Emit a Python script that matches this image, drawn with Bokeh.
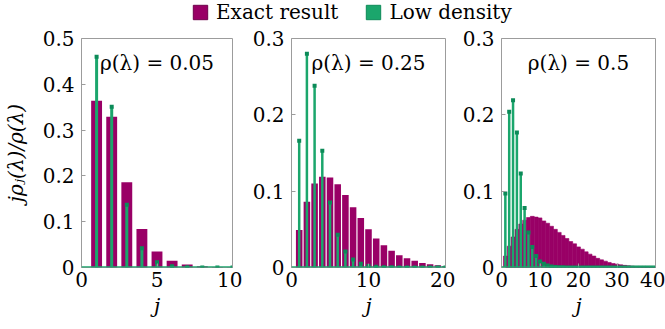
from bokeh.plotting import figure
from bokeh.models import Range1d, FixedTicker, Span, Legend, LegendItem, ColumnDataSource
from bokeh.core.properties import value
from bokeh.layouts import column, row
from bokeh.embed import file_html
from bokeh.resources import INLINE

FONT = "DejaVu Serif"
FS = "20px"
MAGENTA = "#990066"
MAGENTA_DARK = "#6e004a"
GREEN = "#1ba66c"
GREEN_DARK = "#0c8a58"
FRAME = "#9c9c9c"

# ---- data ----
series_names = ["Exact result", "Low density"]

j1 = [1, 2, 3, 4, 5, 6, 7, 8, 9, 10]
exact1 = [0.364, 0.329, 0.186, 0.084, 0.035, 0.0146, 0.0066, 0.003, 0.0013, 0.0005]
low1 = [0.460, 0.351, 0.137, 0.042, 0.0116, 0.003, 0.0008, 0.0002, 0.0, 0.0]

j2 = list(range(1, 21))
exact2 = [0.049, 0.086, 0.110, 0.119, 0.118, 0.109, 0.095, 0.079, 0.065, 0.050,
          0.038, 0.029, 0.022, 0.016, 0.012, 0.0087, 0.006, 0.0044, 0.003, 0.002]
low2 = [0.166, 0.280, 0.238, 0.153, 0.085, 0.043, 0.021, 0.0105, 0.005, 0.002,
        0.001, 0.0004, 0.0002, 0.0, 0.0, 0.0, 0.0, 0.0, 0.0, 0.0]

j3 = list(range(1, 41))
exact3 = [0.015, 0.028, 0.040, 0.050, 0.057, 0.062, 0.0655, 0.067, 0.066, 0.065,
          0.061, 0.058, 0.054, 0.050, 0.046, 0.042, 0.038, 0.034, 0.031, 0.027,
          0.024, 0.0205, 0.0175, 0.015, 0.012, 0.010, 0.0083, 0.0066, 0.0052, 0.0044,
          0.0035, 0.0028, 0.0022, 0.0017, 0.0013, 0.001, 0.0008, 0.0006, 0.0004, 0.0003]
low3 = [0.097, 0.204, 0.219, 0.177, 0.123, 0.078, 0.046, 0.027, 0.015, 0.008,
        0.0048, 0.0026, 0.0014, 0.0007, 0.0004, 0.0002, 0.0001, 0.0, 0.0, 0.0,
        0.0, 0.0, 0.0, 0.0, 0.0, 0.0, 0.0, 0.0, 0.0, 0.0,
        0.0, 0.0, 0.0, 0.0, 0.0, 0.0, 0.0, 0.0, 0.0, 0.0]

x_ticks1 = [0, 5, 10]
x_ticks2 = [0, 10, 20]
x_ticks3 = [0, 10, 20, 30, 40]
y_ticks1 = [0, 0.1, 0.2, 0.3, 0.4, 0.5]
y_tick_labels1 = ["0", "0.1", "0.2", "0.3", "0.4", "0.5"]
y_ticks2 = [0, 0.1, 0.2, 0.3]
y_tick_labels2 = ["0", "0.1", "0.2", "0.3"]

rho_labels = ["ρ(λ) = 0.05", "ρ(λ) = 0.25", "ρ(λ) = 0.5"]
x_label = "j"
y_label = "jρⱼ(λ)/ρ(λ)"

H = 301
FRAME_H = 229


def panel(width, left, right, xmax, ymax, xt, yt, ytl, j, ex, lo, bar_w, bar_line, stem_w, rho_text, ylabel=None):
    p = figure(width=width, height=H, x_range=Range1d(0, xmax), y_range=Range1d(0, ymax),
               toolbar_location=None, output_backend="svg",
               min_border_left=left, min_border_right=right, min_border_top=10, min_border_bottom=62)
    p.xgrid.visible = False
    p.ygrid.visible = False
    p.outline_line_color = FRAME
    p.outline_line_width = 1
    p.background_fill_color = "white"

    p.vbar(x=j, top=ex, width=bar_w, fill_color=MAGENTA, line_color=bar_line, line_width=0.6)
    p.segment(x0=j, y0=[0] * len(j), x1=j, y1=lo, line_color=GREEN, line_width=stem_w)
    p.scatter(x=j, y=lo, marker="square", size=4, fill_color=GREEN_DARK, line_color=None)
    p.add_layout(Span(location=0, dimension="width", line_color=GREEN, line_width=2.5))

    p.text(x=[xmax / 2], y=[ymax * (1 - 24 / FRAME_H)], text=[rho_text],
           text_align="center", text_baseline="middle",
           text_font=value(FONT), text_font_size=FS, text_color="black")

    for ax in (p.xaxis, p.yaxis):
        ax.axis_line_color = None
        ax.major_tick_in = 4
        ax.major_tick_out = 0
        ax.major_tick_line_color = FRAME
        ax.minor_tick_line_color = None
        ax.major_label_text_font = FONT
        ax.major_label_text_font_size = FS
        ax.major_label_text_color = "black"
    p.xaxis.ticker = FixedTicker(ticks=xt)
    p.yaxis.ticker = FixedTicker(ticks=yt)
    p.yaxis.major_label_overrides = dict(zip(yt, ytl))
    p.xaxis.major_label_standoff = 4
    p.yaxis.major_label_standoff = 7
    p.xaxis.axis_label = x_label
    p.xaxis.axis_label_text_font = FONT
    p.xaxis.axis_label_text_font_size = FS
    p.xaxis.axis_label_text_font_style = "italic"
    p.xaxis.axis_label_text_color = "black"
    p.xaxis.axis_label_standoff = 4
    if ylabel:
        p.yaxis.axis_label = ylabel
        p.yaxis.axis_label_text_font = FONT
        p.yaxis.axis_label_text_font_size = FS
        p.yaxis.axis_label_text_font_style = "italic"
        p.yaxis.axis_label_text_color = "black"
        p.yaxis.axis_label_standoff = 12
    return p


p1 = panel(242, 79, 10, 10, 0.5, x_ticks1, y_ticks1, y_tick_labels1, j1, exact1, low1, 0.72, None, 3, rho_labels[0], y_label)
p2 = panel(213, 49, 10, 20, 0.3, x_ticks2, y_ticks2, y_tick_labels2, j2, exact2, low2, 0.85, None, 2.5, rho_labels[1])
p3 = panel(210, 46, 10, 40, 0.3, x_ticks3, y_ticks2, y_tick_labels2, j3, exact3, low3, 1.0, MAGENTA, 2.5, rho_labels[2])

# legend strip
p0 = figure(width=665, height=28, x_range=Range1d(0, 1), y_range=Range1d(0, 1),
            toolbar_location=None, output_backend="svg", min_border=0)
p0.axis.visible = False
p0.xgrid.visible = False
p0.ygrid.visible = False
p0.outline_line_color = None
dummy = ColumnDataSource(data=dict(x=[-5.0], top=[0.0]))
ra = p0.vbar(x="x", top="top", width=0.1, source=dummy, fill_color=MAGENTA, line_color=MAGENTA_DARK)
rb = p0.vbar(x="x", top="top", width=0.1, source=dummy, fill_color=GREEN, line_color=GREEN_DARK)
legend = Legend(items=[LegendItem(label=series_names[0], renderers=[ra]),
                       LegendItem(label=series_names[1], renderers=[rb])],
                orientation="horizontal", location=(191, 4),
                glyph_width=18, glyph_height=18, label_standoff=7, spacing=26,
                padding=0, margin=0, border_line_color=None, background_fill_alpha=0,
                label_text_font=FONT, label_text_font_size=FS, label_text_color="black")
p0.add_layout(legend)

layout = column(p0, row(p1, p2, p3))
open("out.html", "w").write(file_html(layout, INLINE))
